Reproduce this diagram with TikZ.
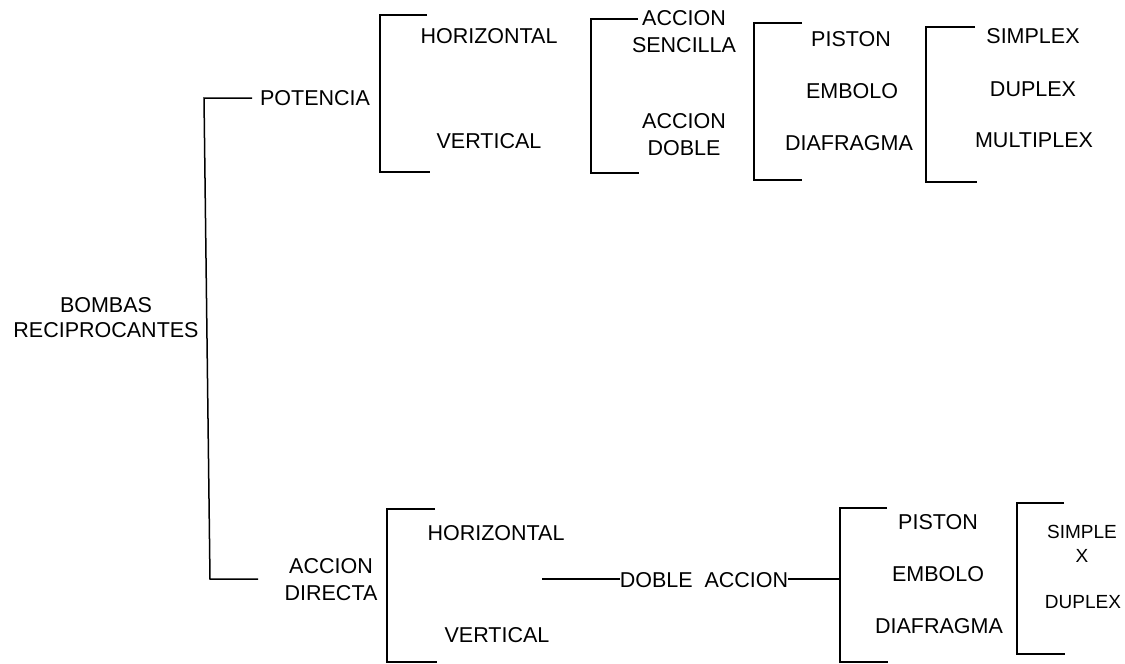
\documentclass[tikz,border=0pt]{standalone}
\usepackage{fontspec}
\setmainfont{Liberation Sans}
\begin{document}
\begin{tikzpicture}[x=1pt,y=-1pt,
  lbl/.style={inner sep=0pt,align=center,font=\fontsize{21.5}{27}\selectfont},
  small/.style={inner sep=0pt,align=center,font=\fontsize{19}{23.5}\selectfont},
  ln/.style={line width=1.5pt,line join=miter}]
\useasboundingbox (0,0) rectangle (1125,664);

% root
\node[lbl,font=\fontsize{21.5}{25}\selectfont] (root) at (106,318) {BOMBAS\\RECIPROCANTES};
\draw[ln] (252,98) -- (204,98) -- (210,579) -- (258,579);

% upper branch
\node[lbl] (pot) at (315,98) {POTENCIA};
\draw[ln] (427,15) -- (380,15) -- (380,172) -- (430,172);
\node[lbl] (hor1) at (489,36) {HORIZONTAL};
\node[lbl] (ver1) at (489,141) {VERTICAL};

\node[lbl] (sen) at (684,31.5) {ACCION\\SENCILLA};
\node[lbl] (dob) at (684,135) {ACCION\\DOBLE};
\draw[ln] (638,19) -- (591,19) -- (591,173) -- (639,173);

\node[lbl] (pis1) at (851,39) {PISTON};
\node[lbl] (emb1) at (852,91) {EMBOLO};
\node[lbl] (dia1) at (849,143) {DIAFRAGMA};
\draw[ln] (802,23) -- (754,23) -- (754,180) -- (802,180);

\node[lbl] (smx) at (1033,36) {SIMPLEX};
\node[lbl] (dpx1) at (1033,89) {DUPLEX};
\node[lbl] (mpx) at (1034,140) {MULTIPLEX};
\draw[ln] (975,27) -- (926,27) -- (926,182) -- (977,182);

% lower branch
\node[lbl] (dir) at (331,579.5) {ACCION\\DIRECTA};
\draw[ln] (435,509) -- (387,509) -- (387,662) -- (437,662);
\node[lbl] (hor2) at (496,533) {HORIZONTAL};
\node[lbl] (ver2) at (497,635) {VERTICAL};

\coordinate (da0) at (542,579);
\coordinate (da1) at (840,579);
\node[lbl] (da) at (704,580) {DOBLE\hspace{0.55em}ACCION};
\draw[ln] (da0) -- (da.west|-da0);
\draw[ln] (da.east|-da1) -- (da1);

\draw[ln] (887,508) -- (840,508) -- (840,662) -- (888,662);
\node[lbl] (pis2) at (938,522.5) {PISTON};
\node[lbl] (emb2) at (938,574) {EMBOLO};
\node[lbl] (dia2) at (939,626) {DIAFRAGMA};

\draw[ln] (1064,503) -- (1017,503) -- (1017,654) -- (1065,654);
\node[small] (spx) at (1082,544) {SIMPLE\\X};
\node[small] (dpx2) at (1083,602.5) {DUPLEX};
\end{tikzpicture}
\end{document}
